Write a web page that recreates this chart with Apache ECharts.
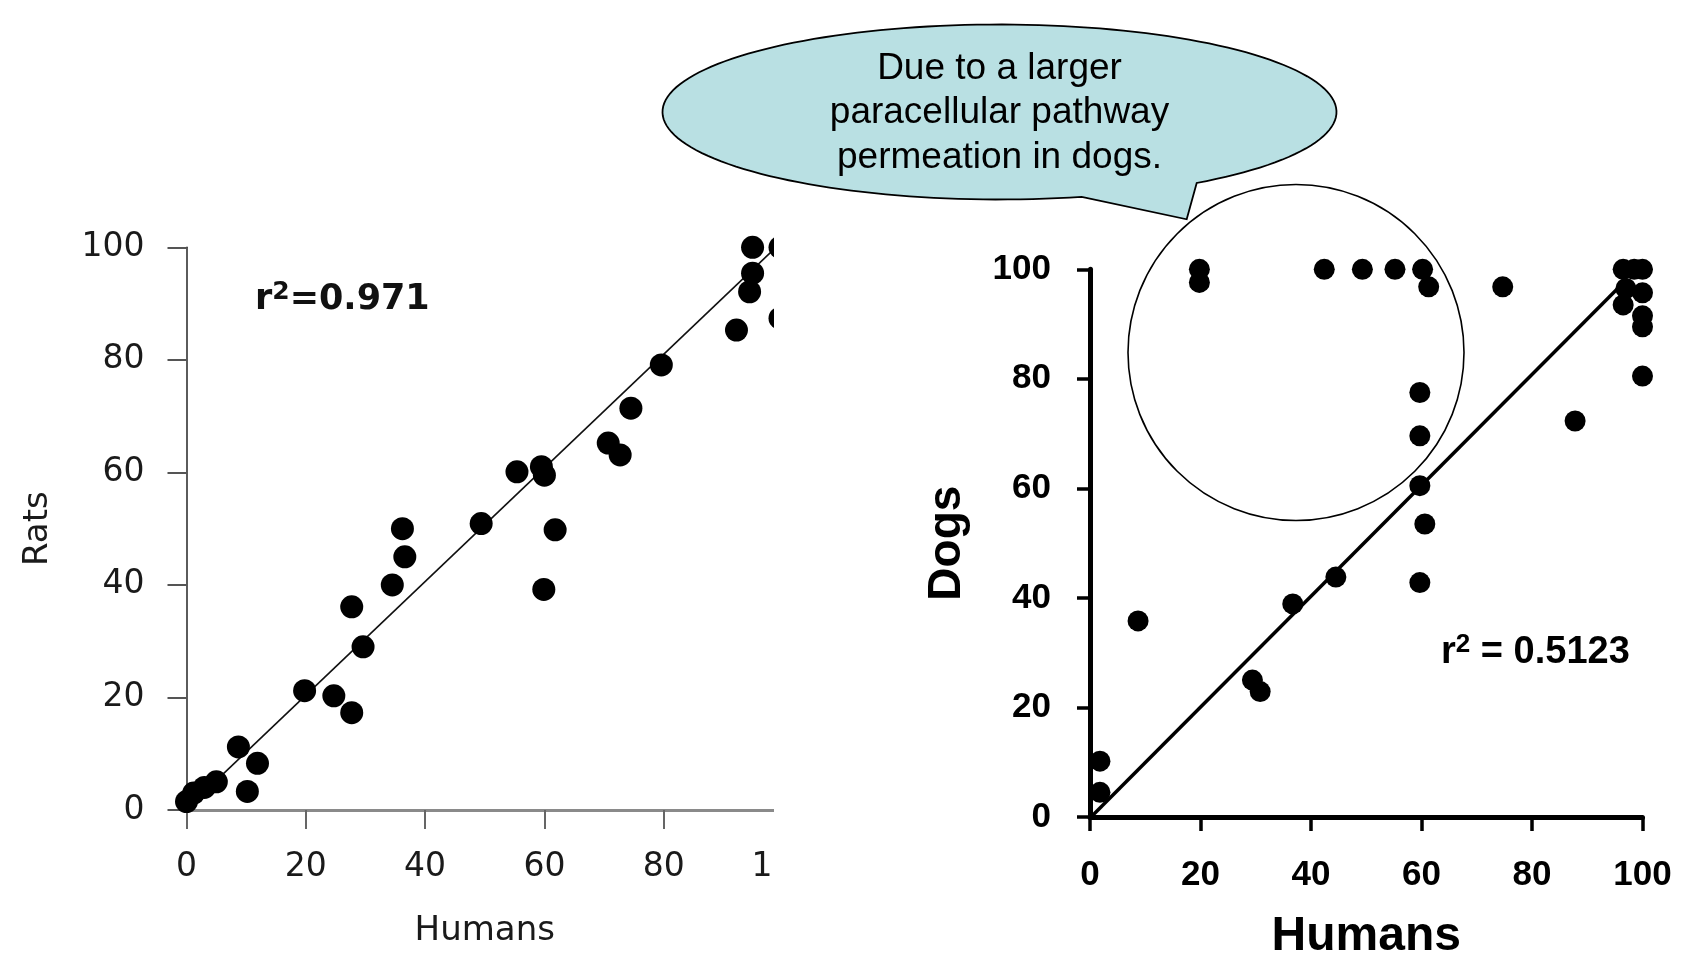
<!DOCTYPE html>
<html><head><meta charset="utf-8">
<script src="https://cdn.jsdelivr.net/npm/echarts@6/dist/echarts.min.js"></script>
<style>
html,body{margin:0;padding:0;background:#fff;width:1687px;height:966px;overflow:hidden;}
#leftWrap{position:absolute;left:0;top:0;width:774px;height:966px;overflow:hidden;}
#left{position:absolute;left:0;top:0;width:900px;height:966px;}
#rightWrap{position:absolute;left:0;top:0;width:1674px;height:966px;overflow:hidden;}
#right{position:absolute;left:0;top:0;width:1687px;height:966px;}
</style></head><body>
<div id="leftWrap"><div id="left"></div></div>
<div id="rightWrap"><div id="right"></div></div>
<script>
// ---- data ----
const tickValues = [0, 20, 40, 60, 80, 100];

// Left panel: Humans (x) vs Rats (y)
const ratHumans = [0, 1.2, 3, 5, 10.2, 8.7, 11.9, 19.8, 24.7, 27.7, 27.7, 29.6, 34.5, 36.6, 36.2, 49.4, 55.4, 59.5, 60, 59.9, 61.8, 70.7, 72.7, 74.5, 79.6, 92.2, 94.4, 94.9, 94.9, 99.5, 99.5];
const ratValues = [1.5, 3, 4, 5, 3.3, 11.2, 8.3, 21.2, 20.3, 17.3, 36.1, 29.0, 40.0, 45.0, 50.0, 50.9, 60.1, 61, 59.5, 39.2, 49.8, 65.2, 63.1, 71.4, 79.1, 85.3, 92.1, 95.4, 100, 100, 87.4];
const ratFitX = [0, 100];
const ratFitY = [0.2, 101.2];
const ratR2 = '0.971';

// Right panel: Humans (x) vs Dogs (y)
const dogHumans = [1.8, 1.8, 8.7, 29.4, 30.8, 36.7, 44.5, 59.7, 60.6, 59.7, 59.7, 59.7, 19.8, 19.8, 42.4, 49.3, 55.2, 60.2, 61.3, 74.7, 87.8, 96.5, 98.5, 100, 96.5, 97, 100, 100, 100, 100];
const dogValues = [10.2, 4.5, 35.8, 25.0, 22.9, 38.9, 43.8, 42.8, 53.5, 60.5, 69.6, 77.5, 100, 97.6, 100, 100, 100, 100, 96.8, 96.8, 72.3, 100, 100, 100, 93.5, 96.5, 95.7, 91.5, 89.5, 80.5];
const dogFitX = [0.5, 96.5];
const dogFitY = [0.3, 97.5];
const dogR2 = '0.5123';

const calloutLines = ['Due to a larger', 'paracellular pathway', 'permeation in dogs.'];

const zip = (xs, ys) => xs.map((x, i) => [x, ys[i]]);

// ---- left chart ----
const leftFont = 'DejaVu Sans';
const left = echarts.init(document.getElementById('left'), null, {renderer: 'canvas'});
left.setOption({
  animation: false,
  backgroundColor: 'transparent',
  grid: {left: 186.5, top: 247.3, width: 596.5, height: 562.7},
  xAxis: {
    type: 'value', min: 0, max: 100, interval: 20,
    name: 'Humans', nameLocation: 'middle', nameGap: 104,
    nameTextStyle: {fontFamily: leftFont, fontSize: 34, color: '#1a1a1a'},
    axisLine: {show: true, onZero: false, lineStyle: {color: '#8a8a8a', width: 3}},
    axisTick: {show: true, length: 19, lineStyle: {color: '#666', width: 2}},
    axisLabel: {margin: 41, fontFamily: leftFont, fontSize: 33, color: '#1a1a1a'},
    splitLine: {show: false}
  },
  yAxis: {
    type: 'value', min: 0, max: 100, interval: 20,
    name: 'Rats', nameLocation: 'middle', nameGap: 131,
    nameTextStyle: {fontFamily: leftFont, fontSize: 34, color: '#1a1a1a'},
    axisLine: {show: true, onZero: false, lineStyle: {color: '#333', width: 1.6}},
    axisTick: {show: true, length: 19, lineStyle: {color: '#555', width: 2}},
    axisLabel: {margin: 42, fontFamily: leftFont, fontSize: 33, color: '#1a1a1a'},
    splitLine: {show: false}
  },
  series: [
    {type: 'line', data: zip(ratFitX, ratFitY), showSymbol: false, clip: false,
     lineStyle: {color: '#111', width: 1.6}, silent: true, z: 2},
    {type: 'scatter', data: zip(ratHumans, ratValues), symbolSize: 23, clip: false,
     itemStyle: {color: '#000', opacity: 1}, z: 3}
  ],
  graphic: [{
    type: 'text', left: 255, top: 280, z: 10,
    style: {
      rich: {
        a: {fontFamily: leftFont, fontWeight: 'bold', fontSize: 35, lineHeight: 40, fill: '#111'},
        s: {fontFamily: leftFont, fontWeight: 'bold', fontSize: 25, lineHeight: 40, verticalAlign: 'top', fill: '#111'}
      },
      text: '{a|r}{s|2}{a|=' + ratR2 + '}'
    }
  }]
});

// ---- right chart ----
const rightFont = 'Liberation Sans';
const right = echarts.init(document.getElementById('right'), null, {renderer: 'canvas'});
const cx = 999.5, cy = 112, rx = 337, ry = 87.5;
const tA = Math.acos((1081.7 - cx) / rx);
const tB = 2 * Math.PI + Math.acos((1196.7 - cx) / rx);
const bubblePts = [];
for (let i = 0; i <= 160; i++) {
  const t = tA + (tB - tA) * i / 160;
  bubblePts.push([cx + rx * Math.cos(t), cy + ry * Math.sin(t)]);
}
bubblePts.push([1186.7, 219.3]);

right.setOption({
  animation: false,
  backgroundColor: 'transparent',
  grid: {left: 1090, top: 269.3, width: 552.5, height: 552.4},
  xAxis: {
    type: 'value', min: 0, max: 100, interval: 20,
    name: 'Humans', nameLocation: 'middle', nameGap: 96,
    nameTextStyle: {fontFamily: rightFont, fontWeight: 'bold', fontSize: 48, color: '#000'},
    axisLine: {show: true, onZero: false, lineStyle: {color: '#000', width: 5}},
    axisTick: {show: true, length: 14, lineStyle: {color: '#000', width: 3.5}},
    axisLabel: {margin: 41, fontFamily: rightFont, fontWeight: 'bold', fontSize: 35, color: '#000'},
    splitLine: {show: false}
  },
  yAxis: {
    type: 'value', min: 0, max: 100, interval: 20,
    name: 'Dogs', nameLocation: 'middle', nameGap: 120,
    nameTextStyle: {fontFamily: rightFont, fontWeight: 'bold', fontSize: 46, color: '#000'},
    axisLine: {show: true, onZero: false, lineStyle: {color: '#000', width: 5}},
    axisTick: {show: true, length: 13, lineStyle: {color: '#000', width: 3.5}},
    axisLabel: {margin: 39, fontFamily: rightFont, fontWeight: 'bold', fontSize: 35, color: '#000'},
    splitLine: {show: false}
  },
  series: [
    {type: 'line', data: zip(dogFitX, dogFitY), showSymbol: false, clip: false,
     lineStyle: {color: '#000', width: 3.5}, silent: true, z: 2},
    {type: 'scatter', data: zip(dogHumans, dogValues), symbolSize: 21, clip: false,
     itemStyle: {color: '#000', opacity: 1}, z: 3}
  ],
  graphic: [
    {type: 'text', left: 1441, top: 632, z: 10,
     style: {
       rich: {
         a: {fontFamily: rightFont, fontWeight: 'bold', fontSize: 38, lineHeight: 42, fill: '#000'},
         s: {fontFamily: rightFont, fontWeight: 'bold', fontSize: 26, lineHeight: 42, verticalAlign: 'top', fill: '#000'}
       },
       text: '{a|r}{s|2}{a| = ' + dogR2 + '}'
     }},
    {type: 'circle', z: 20, shape: {cx: 1296, cy: 352.5, r: 168},
     style: {fill: 'none', stroke: '#000', lineWidth: 1.6}},
    {type: 'polygon', z: 30, shape: {points: bubblePts},
     style: {fill: '#b9e0e3', stroke: '#000', lineWidth: 1.8, lineJoin: 'miter'}},
    {type: 'text', z: 31, x: cx, y: 113,
     style: {text: calloutLines.join('\n'), fontFamily: rightFont, fontSize: 37, lineHeight: 44.7,
             fill: '#000', align: 'center', verticalAlign: 'middle'}}
  ]
});
</script>
</body></html>
